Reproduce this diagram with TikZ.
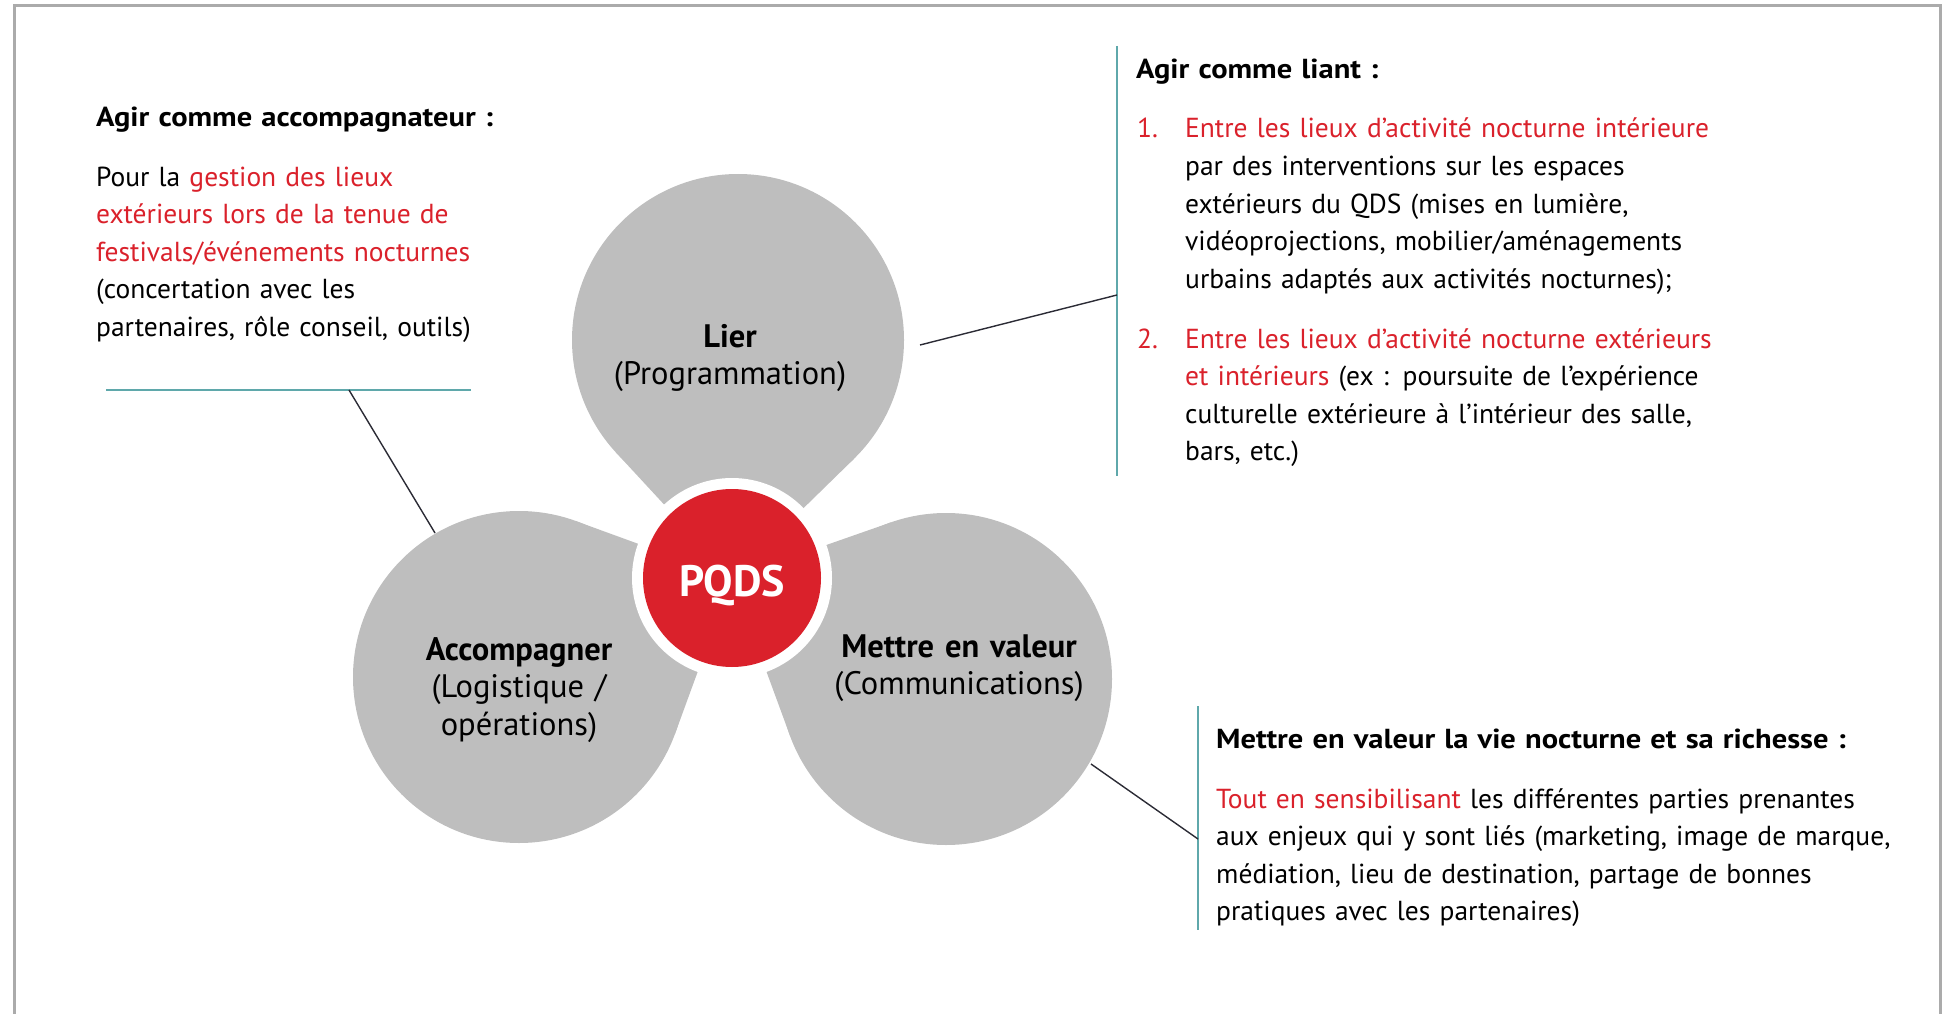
\documentclass[tikz,border=0pt]{standalone}
\usepackage{fontspec}
\setmainfont{PT Sans}
\newfontfamily\headfont{PT Sans}[FakeStretch=1.11]
\definecolor{petalgray}{HTML}{BEBEBE}
\definecolor{pqred}{HTML}{DA212B}
\definecolor{tealc}{HTML}{5FA8AB}
\definecolor{connc}{HTML}{2B2B35}
\definecolor{framec}{HTML}{ABABAB}
\newcommand\bodyfont{\fontsize{27.5}{37.6}\selectfont}
\newcommand\hl[1]{\textcolor{pqred}{#1}}
\newcommand\headtxt[1]{{\headfont\bfseries #1}}
\begin{document}
\begin{tikzpicture}[x=1pt,y=-1pt,
  petal/.style={fill=petalgray},
  body/.style={anchor=base west, inner sep=0pt, align=left, text width=760pt, font=\bodyfont},
  plabel/.style={anchor=base, inner sep=0pt, align=center, text width=360pt, font=\fontsize{32.5}{37.6}\selectfont},
  conn/.style={draw=connc, line width=1.4pt},
  rulel/.style={draw=tealc, line width=1.6pt},
]
\useasboundingbox (0,0) rectangle (1952,1014);
% frame
\draw[draw=framec, line width=2.8pt] (14.5,1020) -- (14.5,5.5) -- (1940.5,5.5) -- (1940.5,1020);

% petals
\coordinate (pqc) at (732,578);
\fill[petal] (738,340) circle[radius=166];
\fill[petal] (pqc) -- (616.2,452.7) -- (854.1,458.7) -- cycle;
\fill[petal] (519,677) circle[radius=166];
\fill[petal] (pqc) -- (674.9,734.1) -- (575.9,521.1) -- cycle;
\fill[petal] (946,679) circle[radius=166];
\fill[petal] (pqc) -- (891.2,522.3) -- (790.2,736.2) -- cycle;
\fill[white] (pqc) circle[radius=100];
\node[circle, fill=pqred, minimum size=178pt, inner sep=0pt, text=white, text depth=0pt, text height=36pt,
      font=\fontsize{44}{50}\selectfont\bfseries] (pq) at (pqc) {PQDS};

% petal labels
\node[plabel] (lierlbl) at (730,347) {{\bfseries Lier}\\(Programmation)};
\node[plabel] (acclbl) at (519,660) {{\bfseries Accompagner}\\(Logistique /\\opérations)};
\node[plabel] (vallbl) at (959,657) {{\bfseries Mettre en valeur}\\(Communications)};

% rules
\coordinate (r1a) at (106,390); \coordinate (r1b) at (471,390);
\coordinate (r2a) at (1117,46); \coordinate (r2b) at (1117,476);
\coordinate (r3a) at (1198,706); \coordinate (r3b) at (1198,930);
\draw[rulel] (r1a) -- (r1b);
\draw[rulel] (r2a) -- (r2b);
\draw[rulel] (r3a) -- (r3b);

% connectors
\coordinate (a1) at (349,390); \coordinate (a2) at (435,533);
\coordinate (b1) at (920,345); \coordinate (b2) at (1117,295);
\coordinate (c1) at (1091,764); \coordinate (c2) at (1198,839);
\draw[conn] (a1) -- (a2);
\draw[conn] (b1) -- (b2);
\draw[conn] (c1) -- (c2);

% left text
\node[body] (acchead) at (96,127) {\headtxt{Agir comme accompagnateur :}};
\node[body] (acctext) at (96,186) {Pour la \hl{gestion des lieux}\\\hl{extérieurs lors de la tenue de}\\\hl{festivals/événements nocturnes}\\(concertation avec les\\partenaires, rôle conseil, outils)};

% top right text
\node[body] (liehead) at (1136,79) {\headtxt{Agir comme liant :}};
\node[body] (n1) at (1137,138) {\hl{1.}};
\node[body] (item1) at (1185,138) {\hl{Entre les lieux d’activité nocturne intérieure}\\par des interventions sur les espaces\\extérieurs du QDS (mises en lumière,\\vidéoprojections, mobilier/aménagements\\urbains adaptés aux activités nocturnes);};
\node[body] (n2) at (1137,348) {\hl{2.}};
\node[body] (item2) at (1185,348) {\hl{Entre les lieux d’activité nocturne extérieurs}\\\hl{et intérieurs} (ex : poursuite de l’expérience\\culturelle extérieure à l’intérieur des salle,\\bars, etc.)};

% bottom right text
\node[body] (valhead) at (1216,748) {\headtxt{Mettre en valeur la vie nocturne et sa richesse :}};
\node[body] (valtext) at (1216,808) {\hl{Tout en sensibilisant} les différentes parties prenantes\\aux enjeux qui y sont liés (marketing, image de marque,\\médiation, lieu de destination, partage de bonnes\\pratiques avec les partenaires)};
\end{tikzpicture}
\end{document}
